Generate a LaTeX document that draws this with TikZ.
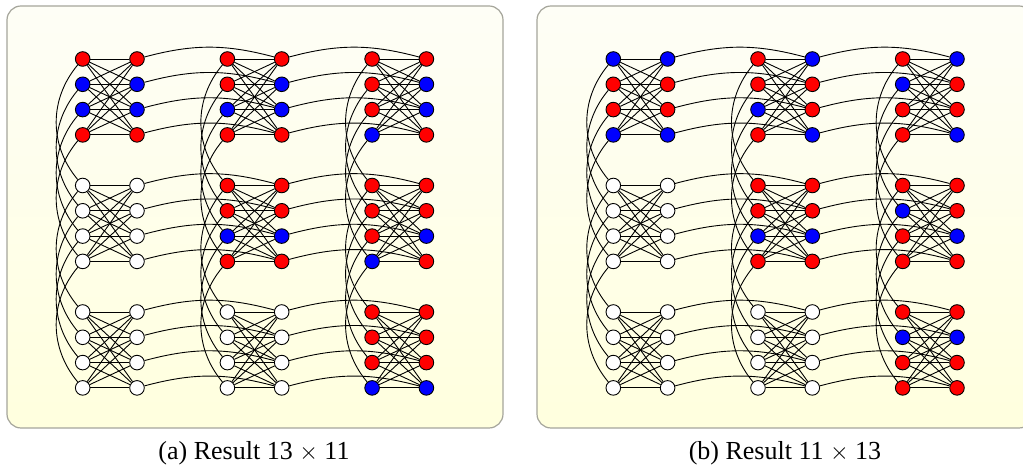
\documentclass[tikz,border=0pt]{standalone}
\usepackage{fontspec}
\setmainfont{Liberation Serif}
\pgfdeclarelayer{back}
\pgfdeclarelayer{edges}
\pgfsetlayers{back,edges,main}

\definecolor{panelTop}{RGB}{254,254,246}
\definecolor{panelBot}{RGB}{255,255,222}
\definecolor{panelRim}{RGB}{165,165,155}

\tikzset{
  qubit/.style={circle, draw=black, line width=0.45pt, minimum size=7.3pt, inner sep=0pt},
  coupler/.style={black, line width=0.45pt},
  panel/.style={draw=panelRim, line width=0.6pt, rounded corners=7pt,
    top color=panelTop, bottom color=panelBot},
  caption/.style={font=\fontsize{13}{15}\selectfont, anchor=base}
}

% #1 name prefix, #2 x offset, #3 cells: row/col/{left column}/{right column}
\newcommand{\chimeragrid}[3]{%
  \foreach \row/\col/\lft/\rgt in {#3}{%
    \foreach \qc [count=\i from 0] in \lft
      \node[qubit, fill=\qc] (#1-\row-\col-L\i) at ({#2+82.7+144.7*\col}, {411-126.5*\row-25.3*\i}) {};
    \foreach \qc [count=\i from 0] in \rgt
      \node[qubit, fill=\qc] (#1-\row-\col-R\i) at ({#2+137+144.7*\col}, {411-126.5*\row-25.3*\i}) {};
  }
  \begin{pgfonlayer}{edges}
    % couplers inside a unit cell
    \foreach \row in {0,1,2}
      \foreach \col in {0,1,2}
        \foreach \i in {0,...,3}
          \foreach \k in {0,...,3}
            \draw[coupler] (#1-\row-\col-L\i) -- (#1-\row-\col-R\k);
    % couplers between unit cells
    \foreach \m [evaluate=\m as \n using int(\m+1)] in {0,1}
      \foreach \p in {0,1,2}
        \foreach \i in {0,...,3}{
          \draw[coupler] (#1-\p-\m-R\i) to[bend left=15] (#1-\p-\n-R\i);
          \draw[coupler] (#1-\m-\p-L\i) to[bend right=40] (#1-\n-\p-L\i);
        }
  \end{pgfonlayer}
}

\begin{document}
\begin{tikzpicture}[x=0.5pt, y=0.5pt]
  \useasboundingbox (0,0) rectangle (1023,470);

  % Panels
  \begin{pgfonlayer}{back}
    \draw[panel] (7,42) rectangle (503,464);
    \clip (0,0) rectangle (1023,470);
    \draw[panel] (537,42) rectangle (1033,464);
  \end{pgfonlayer}

  % (a)
  \chimeragrid{a}{0}{
    0/0/{red,blue,blue,red}/{red,blue,blue,red},
    0/1/{red,red,blue,red}/{red,blue,blue,red},
    0/2/{red,red,red,blue}/{red,blue,blue,red},
    1/0/{white,white,white,white}/{white,white,white,white},
    1/1/{red,red,blue,red}/{red,red,blue,red},
    1/2/{red,red,red,blue}/{red,red,blue,red},
    2/0/{white,white,white,white}/{white,white,white,white},
    2/1/{white,white,white,white}/{white,white,white,white},
    2/2/{red,red,red,blue}/{red,red,red,blue}}

  % (b)
  \chimeragrid{b}{530.6}{
    0/0/{blue,red,red,blue}/{blue,red,red,blue},
    0/1/{red,red,blue,red}/{blue,red,red,blue},
    0/2/{red,blue,red,red}/{blue,red,red,blue},
    1/0/{white,white,white,white}/{white,white,white,white},
    1/1/{red,red,blue,red}/{red,red,blue,red},
    1/2/{red,blue,red,red}/{red,red,blue,red},
    2/0/{white,white,white,white}/{white,white,white,white},
    2/1/{white,white,white,white}/{white,white,white,white},
    2/2/{red,blue,red,red}/{red,blue,red,red}}

  % Captions
  \node[caption] (capA) at (254,10) {(a) Result 13 $\times$ 11};
  \node[caption] (capB) at (785,10) {(b) Result 11 $\times$ 13};
\end{tikzpicture}
\end{document}
